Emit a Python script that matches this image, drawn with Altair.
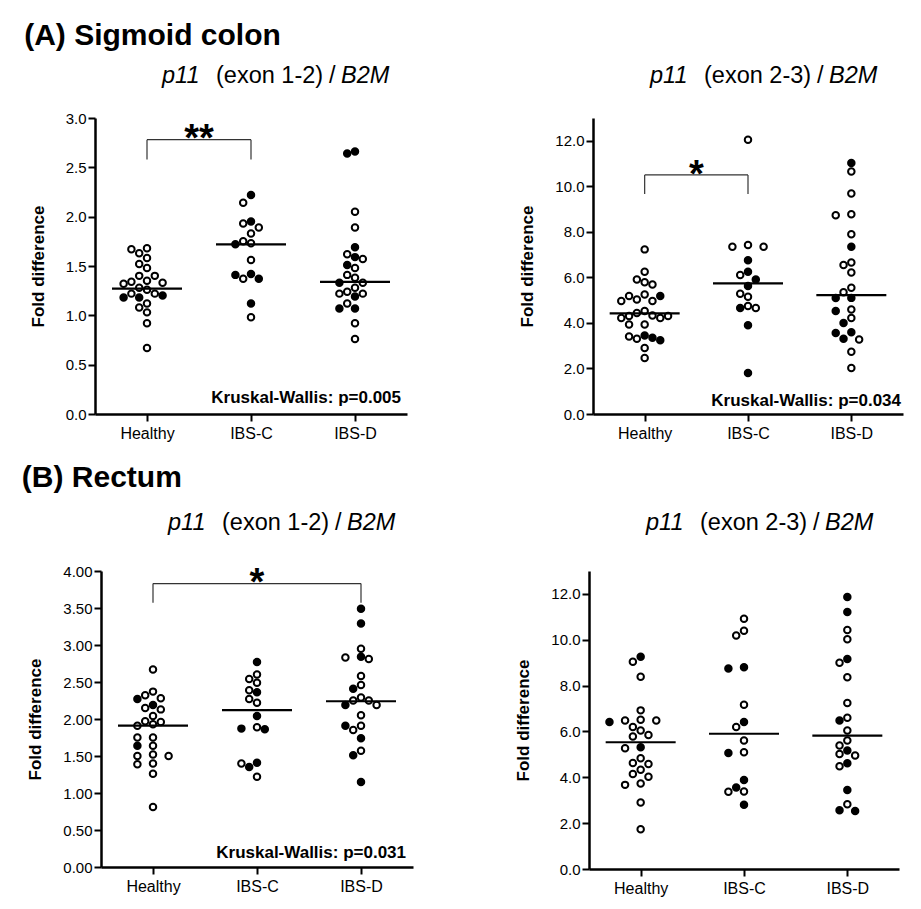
import altair as alt
import numpy as np
import pandas as pd

GROUPS = ["Healthy", "IBS-C", "IBS-D"]
FONT = "Liberation Sans"

# ---------------- data ----------------
# (A) Sigmoid colon, p11 (exon 1-2) / B2M
a1_healthy = [1.68, 1.67, 1.63, 1.58, 1.52, 1.48, 1.40, 1.40, 1.35, 1.34, 1.33, 1.32,
              1.28, 1.26, 1.22, 1.22, 1.20, 1.18, 1.18, 1.12, 1.08, 1.03, 0.92, 0.67]
a1_healthy_filled = [0, 0, 0, 0, 0, 0, 0, 0, 0, 0, 0, 0, 0, 0, 0, 0, 1, 1, 1, 0, 0, 0, 0, 0]
a1_ibsc = [2.22, 2.14, 1.95, 1.93, 1.89, 1.83, 1.75, 1.73, 1.72, 1.56, 1.42, 1.41, 1.37, 1.37, 1.12, 0.98]
a1_ibsc_filled = [1, 0, 1, 0, 0, 0, 0, 0, 1, 0, 1, 1, 0, 1, 1, 0]
a1_ibsd = [2.66, 2.64, 2.05, 1.89, 1.69, 1.62, 1.59, 1.57, 1.51, 1.48, 1.41, 1.38,
           1.33, 1.33, 1.28, 1.24, 1.22, 1.22, 1.19, 1.12, 1.07, 1.07, 0.92, 0.76]
a1_ibsd_filled = [1, 1, 0, 0, 1, 0, 1, 0, 1, 0, 0, 0, 0, 1, 0, 0, 0, 0, 1, 0, 1, 1, 0, 0]
a1_medians = [1.27, 1.72, 1.34]

# (A) Sigmoid colon, p11 (exon 2-3) / B2M
a2_healthy = [7.23, 6.25, 5.91, 5.79, 5.69, 5.25, 5.18, 5.18, 5.03, 4.96, 4.96, 4.52, 4.44, 4.33,
              4.30, 4.30, 4.22, 4.22, 3.93, 3.93, 3.45, 3.40, 3.35, 3.30, 3.24, 2.90, 2.46]
a2_healthy_filled = [0, 0, 0, 0, 0, 0, 0, 1, 0, 0, 0, 0, 0, 0, 0, 0, 0, 0, 0, 0, 1, 0, 1, 0, 1, 0, 0]
a2_ibsc = [12.04, 7.42, 7.35, 7.35, 6.75, 6.25, 6.10, 5.91, 5.62, 5.28, 5.15, 4.74, 4.66, 4.66, 3.90, 1.80]
a2_ibsc_filled = [0, 0, 0, 0, 1, 1, 0, 1, 1, 0, 0, 0, 1, 0, 1, 1]
a2_ibsd = [11.02, 10.65, 9.68, 8.77, 8.73, 7.89, 7.35, 6.65, 6.54, 6.21, 5.54, 5.35,
           5.10, 5.09, 4.59, 4.52, 4.22, 4.00, 3.59, 3.56, 3.30, 3.27, 2.73, 2.02]
a2_ibsd_filled = [1, 0, 0, 0, 0, 0, 1, 0, 0, 0, 0, 0, 1, 1, 0, 1, 0, 1, 1, 1, 1, 0, 0, 0]
a2_medians = [4.42, 5.74, 5.22]

# (B) Rectum, p11 (exon 1-2) / B2M
b1_healthy = [2.67, 2.37, 2.32, 2.28, 2.27, 2.19, 2.15, 2.13, 2.04, 1.97, 1.96, 1.93,
              1.91, 1.75, 1.75, 1.64, 1.64, 1.52, 1.50, 1.50, 1.40, 1.39, 1.26, 0.81]
b1_healthy_filled = [0, 0, 0, 0, 1, 1, 0, 0, 0, 0, 0, 0, 0, 0, 0, 0, 1, 0, 0, 0, 0, 0, 0, 0]
b1_ibsc = [2.77, 2.60, 2.54, 2.49, 2.39, 2.36, 2.27, 2.22, 2.04, 1.89, 1.87, 1.86, 1.41, 1.40, 1.35, 1.22]
b1_ibsc_filled = [1, 0, 0, 0, 0, 1, 0, 0, 1, 0, 1, 1, 1, 0, 1, 0]
b1_ibsd = [3.49, 3.29, 2.95, 2.84, 2.83, 2.81, 2.58, 2.46, 2.41, 2.29, 2.25,
           2.25, 2.19, 2.19, 2.05, 1.91, 1.91, 1.85, 1.74, 1.57, 1.51, 1.15]
b1_ibsd_filled = [1, 1, 0, 1, 0, 0, 0, 0, 1, 0, 0, 0, 1, 0, 0, 0, 1, 0, 1, 0, 1, 1]
b1_medians = [1.91, 2.12, 2.24]

# (B) Rectum, p11 (exon 2-3) / B2M
b2_healthy = [9.26, 9.04, 8.39, 6.92, 6.51, 6.48, 6.48, 6.41, 6.19, 6.04, 5.85, 5.78,
              5.31, 5.27, 4.83, 4.62, 4.58, 4.33, 4.14, 4.02, 3.73, 3.67, 2.90, 1.73]
b2_healthy_filled = [1, 0, 0, 0, 0, 0, 0, 1, 0, 0, 0, 0, 1, 0, 0, 0, 0, 0, 0, 0, 0, 0, 0, 0]
b2_ibsc = [10.92, 10.39, 10.19, 8.80, 8.75, 7.17, 6.41, 6.19, 5.61, 5.09, 5.06, 3.88, 3.56, 3.38, 3.37, 2.80]
b2_ibsc_filled = [0, 0, 0, 1, 1, 0, 1, 0, 0, 0, 1, 1, 1, 0, 0, 1]
b2_ibsd = [11.87, 11.21, 10.43, 10.02, 9.16, 9.00, 8.36, 7.24, 6.60, 6.48, 6.04,
           5.61, 5.39, 5.17, 5.02, 4.95, 4.61, 4.48, 3.45, 2.82, 2.56, 2.53]
b2_ibsd_filled = [1, 1, 0, 0, 1, 0, 0, 0, 0, 1, 0, 0, 0, 1, 0, 0, 1, 0, 1, 0, 1, 1]
b2_medians = [5.53, 5.90, 5.82]

ticks_a1 = [0.0, 0.5, 1.0, 1.5, 2.0, 2.5, 3.0]
ticks_b1 = [0.0, 0.5, 1.0, 1.5, 2.0, 2.5, 3.0, 3.5, 4.0]
ticks_exon23 = [0, 2, 4, 6, 8, 10, 12]

# significance brackets: (group from, group to, top value, leg-end value, label)
bracket_a1 = (0, 1, 2.78, 2.58, "**")
bracket_a2 = (0, 1, 10.5, 9.66, "*")
bracket_b1 = (0, 2, 3.83, 3.57, "*")

kw_a1 = "Kruskal-Wallis: p=0.005"
kw_a2 = "Kruskal-Wallis: p=0.034"
kw_b1 = "Kruskal-Wallis: p=0.031"


# ---------------- helpers ----------------
def swarm_offsets(values, ymax, height, band_px, step_px=7.8, d_px=8.0):
    """Simple beeswarm on a horizontal grid; returns offsets in band units."""
    order = sorted(range(len(values)), key=lambda i: -values[i])
    placed = []
    offs = [0.0] * len(values)
    ks = [0] + [s * k for k in range(1, 10) for s in (-1, 1)]
    for i in order:
        ypx = values[i] / ymax * height
        xpx = 0.0
        for k in ks:
            xpx = k * step_px
            if all((xpx - px) ** 2 + (ypx - py) ** 2 >= d_px ** 2 for px, py in placed):
                break
        placed.append((xpx, ypx))
        offs[i] = xpx / band_px
    return offs


LABEL_EXPR = ("datum.value == 0 ? '%s' : (datum.value == 1 ? '%s' : '%s')" % tuple(GROUPS))


def panel(vals, fills, meds, ymax, ticks, fmt, W, H, sub_parts, sub_y,
          kw=None, kw_pos=None, bracket=None, xpad=0):
    rows = []
    for gi, (v, f) in enumerate(zip(vals, fills)):
        offs = swarm_offsets(v, ymax, H, W / 3.0)
        for val, fl, o in zip(v, f, offs):
            rows.append({"gx": gi + o, "value": val, "kind": "filled" if fl else "open"})
    df = pd.DataFrame(rows)

    TW = W + xpad
    if xpad:
        xscale = alt.Scale(domain=[-0.5, 2.5], nice=False, zero=False, range=[xpad, TW])
    else:
        xscale = alt.Scale(domain=[-0.5, 2.5], nice=False, zero=False)
    yscale = alt.Scale(domain=[0, ymax], nice=False, zero=True)
    xaxis = alt.Axis(values=[0, 1, 2], labelExpr=LABEL_EXPR, title=None, tickSize=7,
                     tickWidth=2, domainWidth=2.5, labelPadding=4, labelFontSize=16,
                     labelFont=FONT, labelColor="black", grid=False)
    yaxis = alt.Axis(values=ticks, format=fmt, title="Fold difference", tickSize=7,
                     tickWidth=2, domainWidth=2.5, labelPadding=2, labelFontSize=15,
                     labelFont=FONT, labelColor="black", titleFont=FONT, titleFontSize=17,
                     titleFontWeight="bold", titleColor="black", titlePadding=18, grid=False,
                     offset=-xpad)

    def X(field):
        return alt.X(field, type="quantitative", scale=xscale, axis=xaxis)

    def Y(field):
        return alt.Y(field, type="quantitative", scale=yscale, axis=yaxis)

    pts = alt.Chart(df).mark_circle(size=42, stroke="black", strokeWidth=2, opacity=1).encode(
        x=X("gx"), y=Y("value"),
        fill=alt.Fill("kind:N", scale=alt.Scale(domain=["open", "filled"], range=["white", "black"]),
                      legend=None),
    )
    med_df = pd.DataFrame({"gx": [0, 1, 2], "median": meds})
    med = alt.Chart(med_df).mark_tick(orient="horizontal", size=70, thickness=2.2,
                                      color="black", opacity=1).encode(x=X("gx"), y=Y("median"))
    layers = [pts, med]

    if bracket is not None:
        g1, g2, top, leg, star = bracket
        bdf = pd.DataFrame({"x": [g1, g1, g2], "x2": [g2, g1, g2],
                            "y": [top, leg, leg], "y2": [top, top, top]})
        br = alt.Chart(bdf).mark_rule(color="#333333", strokeWidth=1.2).encode(
            x=X("x"), x2="x2", y=Y("y"), y2="y2")
        sdf = pd.DataFrame({"x": [(g1 + g2) / 2.0], "y": [top], "t": [star]})
        st = alt.Chart(sdf).mark_text(font=FONT, fontSize=38, fontWeight="bold", baseline="alphabetic",
                                      dy=11.7, color="black").encode(x=X("x"), y=Y("y"), text="t:N")
        layers += [br, st]

    if kw is not None:
        kdf = pd.DataFrame({"t": [kw]})
        kt = alt.Chart(kdf).mark_text(font=FONT, fontSize=17, fontWeight="bold", align="right",
                                      baseline="alphabetic", color="black").encode(
            x=alt.value(TW - kw_pos[0]), y=alt.value(H - kw_pos[1]), text="t:N")
        layers.append(kt)

    for txt, style, px in sub_parts:
        tdf = pd.DataFrame({"t": [txt]})
        layers.append(alt.Chart(tdf).mark_text(font=FONT, fontSize=23.5, fontStyle=style, align="left",
                                               baseline="alphabetic", color="black").encode(
            x=alt.value(px + xpad), y=alt.value(sub_y), text="t:N"))

    return alt.layer(*layers).properties(width=TW, height=H)


sub12 = [("p11", "italic", 67), ("(exon 1-2)", "normal", 121), ("/", "normal", 234), ("B2M", "italic", 246)]
sub23 = [("p11", "italic", 57), ("(exon 2-3)", "normal", 111), ("/", "normal", 224), ("B2M", "italic", 236)]

A1 = panel([a1_healthy, a1_ibsc, a1_ibsd], [a1_healthy_filled, a1_ibsc_filled, a1_ibsd_filled],
           a1_medians, 3.0, ticks_a1, ".1f", 312, 296, sub12, -35, kw_a1, (6, 11), bracket_a1)
A2 = panel([a2_healthy, a2_ibsc, a2_ibsd], [a2_healthy_filled, a2_ibsc_filled, a2_ibsd_filled],
           a2_medians, 13.0, ticks_exon23, ".1f", 310, 296, sub23, -35, kw_a2, (2, 8), bracket_a2)
B1 = panel([b1_healthy, b1_ibsc, b1_ibsd], [b1_healthy_filled, b1_ibsc_filled, b1_ibsd_filled],
           b1_medians, 4.0, ticks_b1, ".2f", 312, 296, sub12, -41, kw_b1, (7, 9), bracket_b1, xpad=6)
B2 = panel([b2_healthy, b2_ibsc, b2_ibsd], [b2_healthy_filled, b2_ibsc_filled, b2_ibsd_filled],
           b2_medians, 13.0, ticks_exon23, ".1f", 310, 298, sub23, -41)

title_a = alt.TitleParams("(A) Sigmoid colon", anchor="start", font=FONT, fontSize=30,
                          fontWeight="bold", color="black", offset=13, dx=-5)
title_b = alt.TitleParams("(B) Rectum", anchor="start", font=FONT, fontSize=30,
                          fontWeight="bold", color="black", offset=18, dx=-5)

rowA = alt.hconcat(A1, A2, spacing=111).properties(title=title_a)
rowB = alt.hconcat(B1, B2, spacing=101).properties(title=title_b)

chart = alt.vconcat(rowA, rowB, spacing=22).properties(
    padding={"left": 13, "top": 13, "right": 5, "bottom": 5}
).configure_view(stroke=None).configure_axis(domainColor="black", tickColor="black")

chart.save("out.html", embed_options={"renderer": "svg", "actions": False})
